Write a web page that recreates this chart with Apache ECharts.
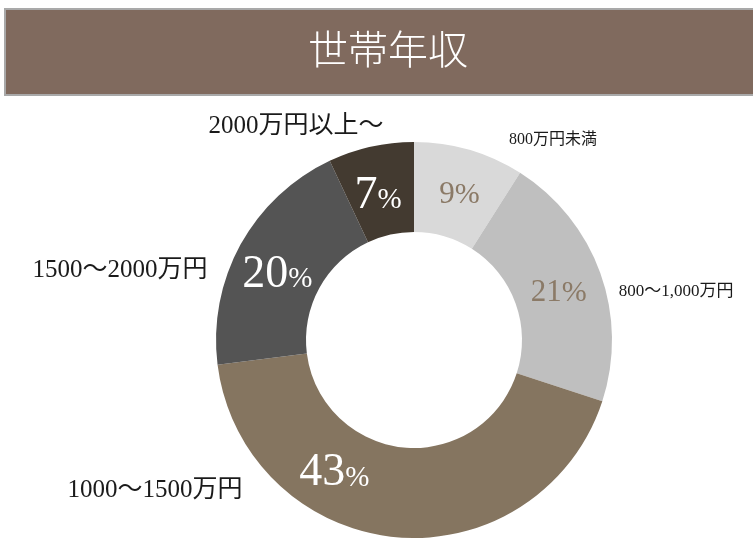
<!DOCTYPE html>
<html lang="ja">
<head>
<meta charset="utf-8">
<title>世帯年収</title>
<script src="https://cdn.jsdelivr.net/npm/echarts@6/dist/echarts.min.js"></script>
<style>
  html, body { margin: 0; padding: 0; background: #ffffff; }
  #chart { width: 753px; height: 538px; }
</style>
</head>
<body>
<div id="chart"></div>
<script>
// Household income brackets and their shares (%)
const categories = ['800万円未満', '800〜1,000万円', '1000〜1500万円', '1500〜2000万円', '2000万円以上〜'];
const shares = [9, 21, 43, 20, 7];
const chartTitle = '世帯年収';

// Slice colours, and which slices use the light label style
const sliceColors = ['#d9d9d9', '#bfbfbf', '#857560', '#545454', '#433a30'];
const lightSlices = [true, true, false, false, false];

// Where each bracket name sits, and its font size
const nameAnchors = [
  { x: 553, y: 140, size: 16 },
  { x: 676, y: 292, size: 17 },
  { x: 155, y: 490, size: 25 },
  { x: 120, y: 270, size: 25 },
  { x: 296, y: 126, size: 25 }
];

// Nudges for the percentage labels inside the ring
const valueNudges = [
  { dx: 2, dy: 5 },
  { dx: -2, dy: 6 },
  { dx: -65, dy: -22 },
  { dx: 0, dy: 10 },
  { dx: -2, dy: 8 }
];

const FONT = '"Liberation Serif", "Noto Sans CJK JP", serif';
const center = [414, 340];

const chart = echarts.init(document.getElementById('chart'), null, { renderer: 'canvas' });

const ringData = categories.map((name, i) => ({
  name,
  value: shares[i],
  itemStyle: { color: sliceColors[i] }
}));

chart.setOption({
  animation: false,
  backgroundColor: '#ffffff',
  graphic: [
    {
      type: 'rect',
      z: 0,
      shape: { x: 5, y: 9, width: 760, height: 86 },
      style: { fill: '#806a5e', stroke: '#a9a9a9', lineWidth: 2 }
    },
    {
      type: 'text',
      z: 1,
      x: 388,
      y: 53,
      style: {
        text: chartTitle,
        fill: '#ffffff',
        font: '300 40px ' + FONT,
        align: 'center',
        verticalAlign: 'middle'
      }
    }
  ],
  series: [
    {
      // Donut ring with percentages inside each slice
      type: 'pie',
      center: center,
      radius: [108, 198],
      startAngle: 90,
      clockwise: true,
      silent: true,
      itemStyle: { borderWidth: 0 },
      data: ringData,
      label: {
        show: true,
        position: 'inside',
        formatter: p => lightSlices[p.dataIndex]
          ? '{ln|' + p.value + '}{lp|%}'
          : '{dn|' + p.value + '}{dp|%}',
        rich: {
          ln: { fontFamily: FONT, fontSize: 31, color: '#8b7a67' },
          lp: { fontFamily: FONT, fontSize: 30, color: '#8b7a67' },
          dn: { fontFamily: FONT, fontSize: 46, color: '#ffffff' },
          dp: { fontFamily: FONT, fontSize: 29, color: '#ffffff', padding: [10, 0, 0, 0] }
        }
      },
      labelLayout: p => valueNudges[p.dataIndex],
      labelLine: { show: false }
    },
    {
      // Transparent copy of the ring that carries the bracket names
      type: 'pie',
      center: center,
      radius: [108, 198],
      startAngle: 90,
      clockwise: true,
      silent: true,
      itemStyle: { color: 'rgba(0,0,0,0)' },
      data: categories.map((name, i) => ({ name, value: shares[i] })),
      label: {
        show: true,
        position: 'outside',
        formatter: p => p.name,
        fontFamily: FONT,
        color: '#1a1a1a'
      },
      labelLine: { show: false },
      labelLayout: p => {
        const a = nameAnchors[p.dataIndex];
        return { x: a.x, y: a.y, align: 'center', verticalAlign: 'middle', fontSize: a.size };
      }
    }
  ]
});
</script>
</body>
</html>
